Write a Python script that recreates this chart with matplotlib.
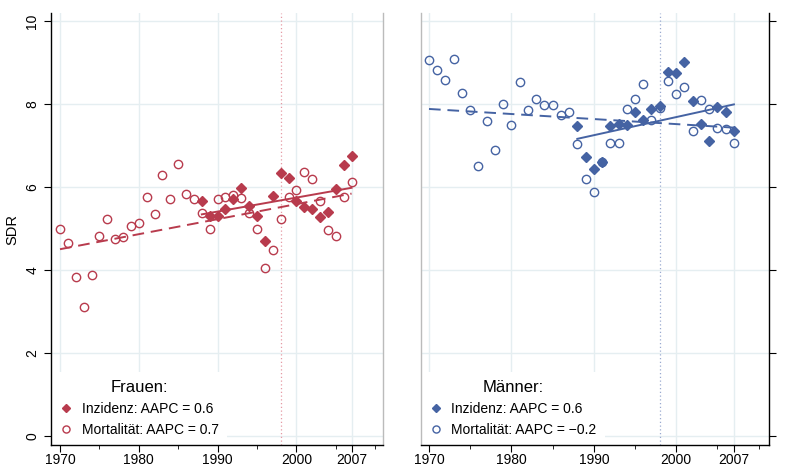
import numpy as np
import matplotlib
matplotlib.use('Agg')
import matplotlib.pyplot as plt
from matplotlib.ticker import FixedLocator

plt.rcParams['font.family'] = ['Liberation Sans', 'DejaVu Sans']

# ---------------- data ----------------
years_mort = list(range(1970, 2008))
years_inz = list(range(1988, 2008))

frauen_mort = [4.98, 4.66, 3.83, 3.11, 3.89, 4.82, 5.23, 4.74, 4.80, 5.07,
               5.14, 5.76, 5.34, 6.28, 5.70, 6.55, 5.84, 5.72, 5.38, 4.98,
               5.72, 5.75, 5.81, 5.74, 5.38, 4.98, 4.05, 4.48, 5.22, 5.77,
               5.92, 6.35, 6.18, 5.66, 4.96, 4.82, 5.75, 6.13]
frauen_inz = [5.67, 5.30, 5.31, 5.48, 5.71, 5.97, 5.55, 5.31, 4.70, 5.78,
              6.34, 6.22, 5.66, 5.52, 5.47, 5.28, 5.40, 5.94, 6.53, 6.74]

maenner_mort = [9.06, 8.82, 8.57, 9.09, 8.26, 7.86, 6.51, 7.60, 6.90, 7.99,
                7.49, 8.54, 7.86, 8.12, 7.98, 7.98, 7.74, 7.80, 7.04, 6.18,
                5.89, 6.59, 7.07, 7.07, 7.87, 8.12, 8.48, 7.61, 7.91, 8.56,
                8.24, 8.41, 7.36, 8.10, 7.88, 7.42, 7.39, 7.06]
maenner_inz = [7.48, 6.73, 6.43, 6.59, 7.48, 7.51, 7.49, 7.80, 7.62, 7.88,
               7.96, 8.78, 8.75, 9.02, 8.06, 7.52, 7.11, 7.93, 7.80, 7.36]

# trend lines (start / end values)
frauen_mort_fit = [4.50, 5.84]
frauen_inz_fit = [5.34, 5.98]
maenner_mort_fit = [7.88, 7.43]
maenner_inz_fit = [7.16, 7.99]

panels = [
    ('Frauen:', frauen_mort, frauen_inz, frauen_mort_fit, frauen_inz_fit,
     'AAPC = 0.6', 'AAPC = 0.7', '#b83b4d', '#e59aa4'),
    ('Männer:', maenner_mort, maenner_inz, maenner_mort_fit, maenner_inz_fit,
     'AAPC = 0.6', 'AAPC = \u22120.2', '#4563a3', '#9aaad0'),
]

xticks = [1970, 1980, 1990, 2000, 2007]
xminor = [1975, 1985, 1995, 2005, 2010]
yticks = [0, 2, 4, 6, 8, 10]
grid_col = '#e5eef1'

fig = plt.figure(figsize=(7.85, 4.68), dpi=100)
ax1 = fig.add_axes([0.065, 0.049, 0.423, 0.923])
ax2 = fig.add_axes([0.536, 0.049, 0.443, 0.923])

for i, (ax, p) in enumerate(zip([ax1, ax2], panels)):
    title, mort, inz, mfit, ifit, lab_i, lab_m, col, vcol = p

    for x in xticks:
        ax.axvline(x, color=grid_col, lw=1.0, zorder=0)
    for y in yticks:
        ax.axhline(y, color=grid_col, lw=1.0, zorder=0)
    ax.axvline(1998, color=vcol, lw=0.9, ls=(0, (1, 2)), zorder=1)

    ax.plot(years_inz, inz, 'D', ms=5, color=col, mec=col, zorder=3,
            label='Inzidenz: ' + lab_i)
    ax.plot(years_mort, mort, 'o', ms=6, mfc='none', mec=col, mew=1.0,
            zorder=3, label='Mortalität: ' + lab_m)
    ax.plot([years_mort[0], years_mort[-1]], mfit, color=col, lw=1.4,
            ls=(0, (6, 3.5)), zorder=2)
    ax.plot([years_inz[0], years_inz[-1]], ifit, color=col, lw=1.4, zorder=2)

    ax.set_ylim(-0.22, 10.19)
    ax.set_xticks(xticks)
    ax.xaxis.set_minor_locator(FixedLocator(xminor))
    ax.set_yticks(yticks)
    ax.tick_params(axis='x', which='major', length=5, labelsize=10, pad=1)
    ax.tick_params(axis='x', which='minor', length=3)
    ax.tick_params(axis='y', length=5, labelsize=10)
    for s in ax.spines.values():
        s.set_linewidth(1.0)
        s.set_zorder(6)

    leg = ax.legend(loc='lower left', bbox_to_anchor=(0.0, 0.0),
                    borderaxespad=0.0, title=title, fontsize=10,
                    title_fontsize=12, frameon=True, fancybox=False,
                    framealpha=1, edgecolor='none', facecolor='white',
                    handlelength=1.0, handletextpad=0.6, labelspacing=0.5,
                    borderpad=0.6, markerscale=0.85)
    leg.set_zorder(5)

ax1.set_xlim(1968.86, 2011.0)
ax2.set_xlim(1969.0, 2011.2)

ax1.spines['top'].set_visible(False)
ax1.spines['right'].set_color('#bbbbbb')
ax1.set_ylabel('SDR', fontsize=10.5, labelpad=4)
for t in ax1.get_yticklabels():
    t.set_rotation(90)
    t.set_va('center')

ax2.spines['top'].set_visible(False)
ax2.spines['left'].set_color('#bbbbbb')
ax2.yaxis.tick_right()
for t in ax2.get_yticklabels():
    t.set_rotation(270)
    t.set_va('center')

fig.savefig('out.png', dpi=100)
